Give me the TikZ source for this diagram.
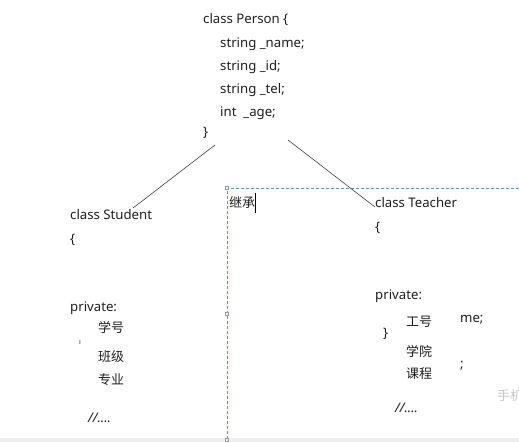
\documentclass[tikz,border=0pt]{standalone}
\usepackage{fontspec}
\setmainfont{Noto Sans}
\newfontfamily\cjk{Noto Sans CJK SC}
\definecolor{dashblue}{HTML}{4A98CC}
\definecolor{bandgray}{HTML}{EFEFEF}
\definecolor{ghost}{HTML}{C8C8C8}
\tikzset{
  txt/.style={anchor=base west, inner sep=0pt, font=\fontsize{13.2}{15}\selectfont, text=black!88},
  ctxt/.style={anchor=base west, inner sep=0pt, font=\cjk\fontsize{13}{15}\selectfont, text=black!88},
  conn/.style={draw=black!75, line width=0.6pt},
  handle/.style={draw=gray!80, fill=white, line width=0.4pt, minimum size=3pt, inner sep=0pt}
}
\begin{document}
\begin{tikzpicture}[x=1pt,y=-1pt]
\useasboundingbox[fill=white] (0,0) rectangle (519,442);
\fill[bandgray] (0,438) rectangle (519,442);
% text box
\draw[dashblue, dash pattern=on 3pt off 2pt, line width=0.6pt] (519,188) -- (227,188) -- (227,440);
\node[handle] (h1) at (227,188) {};
\node[handle] (h2) at (227,314) {};
\node[handle] (h3) at (227,440) {};
% Person
\node[txt] (p0) at (203,23) {class Person \{};
\node[txt] (p1) at (220,47) {string \_name;};
\node[txt] (p2) at (220,70) {string \_id;};
\node[txt] (p3) at (220,93) {string \_tel;};
\node[txt] (p4) at (220,116) {int\ \ \_age;};
\node[txt] (p5) at (203,136) {\}};
\coordinate (pl) at (215,145);
\coordinate (pr) at (288,140);
\coordinate (sl) at (133,208);
\coordinate (tl) at (375,207);
\draw[conn] (pl) -- (sl);
\draw[conn] (pr) -- (tl);
% Student
\node[txt] (s0) at (70,219) {class Student};
\node[txt] (s1) at (70,243) {\{};
\node[txt] (s2) at (70,311) {private:};
\node[ctxt] (s3) at (98,332) {学号};
\node[txt, font=\fontsize{7}{8}\selectfont] (s3b) at (79,344) {ı};
\node[ctxt] (s4) at (98,361) {班级};
\node[ctxt] (s5) at (98,384) {专业};
\node[txt] (s6) at (88,422) {\textit{//....}};
% inherit
\node[ctxt] (inh) at (229,207) {继承};
\draw[black, line width=0.8pt] (255,193) -- (255,213);
% Teacher
\node[txt] (t0) at (375,207) {class Teacher};
\node[txt] (t1) at (375,231) {\{};
\node[txt] (t2) at (375,299) {private:};
\node[ctxt] (t3) at (406,326) {工号};
\node[txt] (tm) at (460,322) {me;};
\node[txt] (tb) at (383,337) {\}};
\node[ctxt] (t4) at (406,356) {学院};
\node[txt] (ts) at (460,368) {;};
\node[ctxt] (t5) at (406,378) {课程};
\node[txt] (t6) at (395,412) {\textit{//....}};
\node[ctxt, text=ghost] (ph) at (497,400) {手机};
\end{tikzpicture}
\end{document}
